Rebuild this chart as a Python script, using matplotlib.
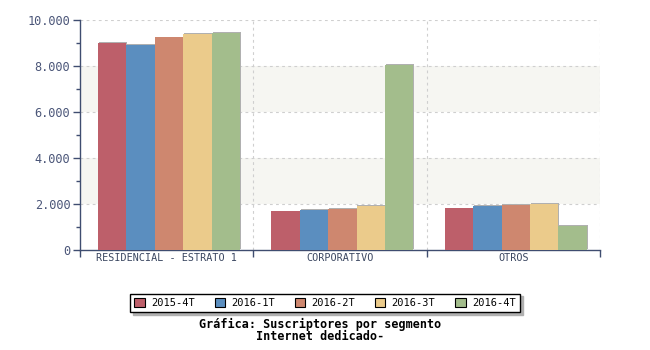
import matplotlib.pyplot as plt
import matplotlib.patheffects as pe
from matplotlib.ticker import FixedLocator, FuncFormatter
import numpy as np

plt.ioff()

categories = ["RESIDENCIAL - ESTRATO 1", "CORPORATIVO", "OTROS"]
periods = ["2015-4T", "2016-1T", "2016-2T", "2016-3T", "2016-4T"]
values = {
    "2015-4T": [9020, 1680, 1810],
    "2016-1T": [8910, 1740, 1900],
    "2016-2T": [9240, 1780, 1960],
    "2016-3T": [9390, 1900, 2000],
    "2016-4T": [9430, 8040, 1040],
}
colors = ["#bd5f6a", "#5b8ebf", "#ce876f", "#ebcb8b", "#a3bd8c"]

axis_col = "#3f4d70"
font = "DejaVu Sans Mono"

fig = plt.figure(figsize=(6.5, 3.5), dpi=100)
ax = fig.add_axes([80 / 650, 100 / 350, 520 / 650, 230 / 350])

# alternating bands
for lo, hi in [(2000, 4000), (6000, 8000)]:
    ax.axhspan(lo, hi, color="#f6f6f2", zorder=0, lw=0)

x = np.arange(len(categories))
bw = 0.164
start = -0.5 + 0.104
for i, p in enumerate(periods):
    bars = ax.bar(x + start + bw * i, values[p], width=bw, align="edge",
                  color=colors[i], lw=0, zorder=3)
    for b in bars:
        b.set_path_effects([pe.SimplePatchShadow(offset=(0.6, 0.6), shadow_rgbFace="#b0b0b0", alpha=1),
                            pe.Normal()])

ax.set_xlim(-0.5, 2.5)
ax.set_ylim(0, 10000)

# grid
for yv in range(2000, 10001, 2000):
    ax.axhline(yv, color="#cfcfcf", lw=0.8, ls=(0, (2.5, 3)), zorder=1)
for xv in [0.5, 1.5, 2.5]:
    ax.axvline(xv, color="#cfcfcf", lw=0.8, ls=(0, (2.5, 3)), zorder=1)

for s in ["top", "right"]:
    ax.spines[s].set_visible(False)
for s in ["left", "bottom"]:
    ax.spines[s].set_color(axis_col)
    ax.spines[s].set_linewidth(1.0)

ax.yaxis.set_major_locator(FixedLocator(range(0, 10001, 2000)))
ax.yaxis.set_minor_locator(FixedLocator(range(1000, 10000, 2000)))
ax.yaxis.set_major_formatter(FuncFormatter(lambda v, _: f"{int(v):,}".replace(",", ".")))
ax.tick_params(axis="y", which="both", colors=axis_col, length=5, width=1, labelsize=8.6, pad=2)
ax.tick_params(axis="y", which="minor", length=3)
for t in ax.get_yticklabels():
    t.set_fontfamily(font)
    t.set_color("#4a5578")

ax.set_xticks([-0.5, 0.5, 1.5, 2.5])
ax.set_xticklabels([])
ax.tick_params(axis="x", colors=axis_col, length=5, width=1, direction="out", pad=0)
for xi, c in zip(x, categories):
    ax.text(xi, -150, c, ha="center", va="top", fontsize=7.3, family=font,
            color="#3a4660")

handles = [plt.Rectangle((0, 0), 1, 1, fc=c, ec="black", lw=0.8) for c in colors]
leg = fig.legend(handles, periods, loc="center", bbox_to_anchor=(325 / 650, 1 - 303 / 350),
                 ncol=5, frameon=True, fancybox=False, shadow={"color": "#b0b0b0", "alpha": 1},
                 edgecolor="black", handlelength=1.0, handleheight=1.0, handletextpad=0.6,
                 columnspacing=1.9, borderpad=0.4, prop={"family": font, "size": 7.5})
leg.get_frame().set_linewidth(1.0)

fig.text(320 / 650, 1 - 324 / 350, "Gráfica: Suscriptores por segmento", ha="center",
         va="center", fontsize=8.5, family=font, weight="bold")
fig.text(320 / 650, 1 - 337 / 350, "Internet dedicado-", ha="center", va="center",
         fontsize=8.5, family=font, weight="bold")

fig.savefig("out.png", dpi=100)
